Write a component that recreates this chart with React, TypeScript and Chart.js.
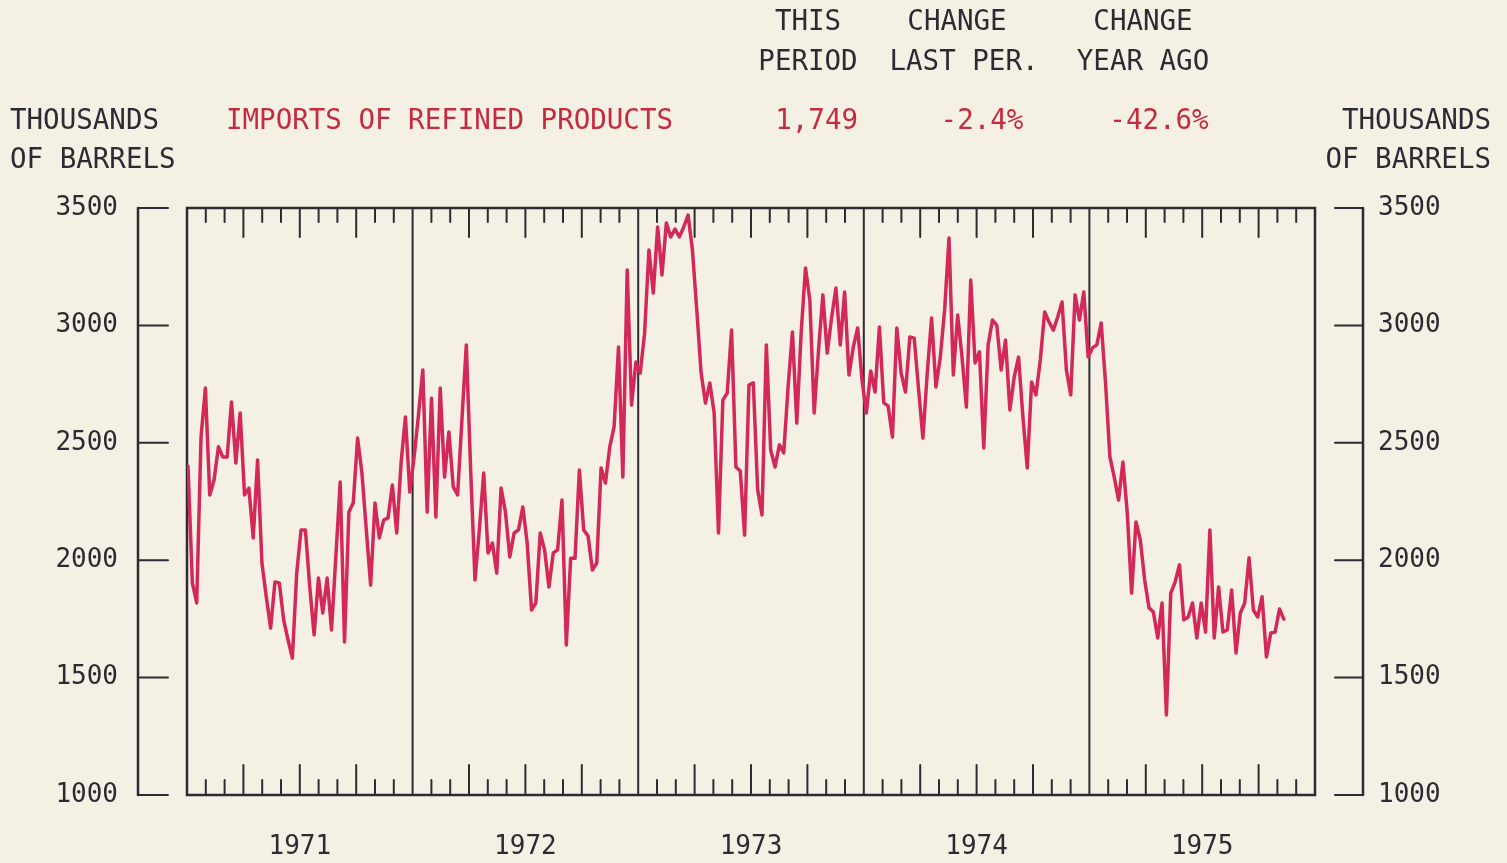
import React, { useEffect, useRef } from 'react';
import { Chart, registerables } from 'chart.js';

Chart.register(...registerables);

// ---- data (weekly imports of refined products, thousands of barrels/day) ----
const years = ['1971', '1972', '1973', '1974', '1975'];

const imports1971 = [
  2400, 1903, 1818, 2525, 2733, 2278, 2342, 2483, 2440, 2440, 2674, 2414, 2627, 2278, 2307, 2095,
  2427, 1988, 1844, 1711, 1907, 1903, 1746, 1661, 1583, 1945, 2129, 2129, 1886, 1682, 1924, 1775,
  1924, 1703, 2014, 2333, 1652, 2205, 2244, 2520, 2371, 2130, 1894, 2244, 2095, 2171, 2180, 2320,
  2116, 2414, 2610, 2290, 2440,
];
const imports1972 = [
  2618, 2810, 2205, 2690, 2184, 2733, 2354, 2546, 2312, 2278, 2600, 2917, 2384, 1916, 2129, 2371,
  2031, 2073, 1945, 2307, 2205, 2014, 2116, 2129, 2227, 2073, 1788, 1818, 2116, 2044, 1886, 2031,
  2044, 2256, 1639, 2008, 2008, 2384, 2129, 2103, 1958, 1988, 2393, 2329, 2483, 2570, 2908, 2354,
  3236, 2661, 2844, 2797,
];
const imports1973 = [
  2967, 3321, 3138, 3419, 3215, 3436, 3377, 3410, 3377, 3419, 3470, 3321, 3066, 2797, 2669, 2755,
  2627, 2116, 2682, 2712, 2980, 2397, 2380, 2107, 2746, 2755, 2300, 2193, 2917, 2469, 2397, 2491,
  2457, 2738, 2972, 2584, 2967, 3244, 3108, 2627, 2895, 3130, 2882, 3032, 3159, 2917, 3142, 2789,
  2908, 2989, 2767,
];
const imports1974 = [
  2627, 2806, 2716, 2993, 2670, 2657, 2525, 2989, 2797, 2716, 2951, 2946, 2730, 2520, 2797, 3032,
  2738, 2865, 3066, 3372, 2789, 3044, 2865, 2652, 3193, 2840, 2887, 2478, 2917, 3023, 3000, 2810,
  2938, 2640, 2780, 2865, 2610, 2393, 2759, 2704, 2853, 3057, 3015, 2980, 3036, 3100, 2810, 2704,
  3130, 3023, 3142,
];
const imports1975 = [
  2866, 2904, 2917, 3010, 2755, 2440, 2354, 2256, 2418, 2201, 1860, 2163, 2086, 1916, 1797, 1779,
  1669, 1818, 1341, 1860, 1907, 1980, 1746, 1758, 1818, 1669, 1818, 1694, 2129, 1669, 1886, 1694,
  1703, 1873, 1605, 1775, 1818, 2010, 1788, 1758, 1844, 1588, 1690, 1694, 1792, 1749,
];

const yTicks = [1000, 1500, 2000, 2500, 3000, 3500];

const headTitle = 'IMPORTS OF REFINED PRODUCTS';
const unitLines = ['THOUSANDS', 'OF BARRELS'];
const colHeads = [
  ['THIS', 'PERIOD'],
  ['CHANGE', 'LAST PER.'],
  ['CHANGE', 'YEAR AGO'],
];
const colValues = ['1,749', '-2.4%', '-42.6%'];

// ---- style ----
const BG = '#f4f0e4';
const INK = '#2e2a33';
const RED = '#c62a3e';
const LINE = '#d3285a';
const MONO = '"DejaVu Sans Mono", "Liberation Mono", monospace';

const allWeeks = [...imports1971, ...imports1972, ...imports1973, ...imports1974, ...imports1975];

const noPad = (s: any) => {
  s.paddingTop = 0;
  s.paddingBottom = 0;
  s.paddingLeft = 0;
  s.paddingRight = 0;
};

const decorPlugin = {
  id: 'decor',
  beforeDatasetsDraw(chart: any) {
    const { ctx, chartArea: a } = chart;
    const yS = chart.scales.y;
    const w = a.right - a.left;
    ctx.save();
    ctx.strokeStyle = INK;
    ctx.lineCap = 'round';
    // year dividers and month ticks
    ctx.lineWidth = 2;
    for (let i = 1; i < 60; i++) {
      const x = a.left + (w * i) / 60;
      ctx.beginPath();
      if (i % 12 === 0) {
        ctx.moveTo(x, a.top);
        ctx.lineTo(x, a.bottom);
      } else {
        const len = i % 3 === 0 ? 29 : 14;
        ctx.moveTo(x, a.top);
        ctx.lineTo(x, a.top + len);
        ctx.moveTo(x, a.bottom);
        ctx.lineTo(x, a.bottom - len - 1);
      }
      ctx.stroke();
    }
    // frame
    ctx.lineWidth = 2.5;
    ctx.strokeRect(a.left, a.top, w, a.bottom - a.top);
    // outer axes
    const lx = a.left - 49;
    const rx = a.right + 48;
    const yTop = yS.getPixelForValue(yTicks[yTicks.length - 1]);
    const yBot = yS.getPixelForValue(yTicks[0]);
    ctx.lineWidth = 2.5;
    ctx.beginPath();
    ctx.moveTo(lx, yTop);
    ctx.lineTo(lx, yBot);
    ctx.moveTo(rx, yTop);
    ctx.lineTo(rx, yBot);
    ctx.stroke();
    ctx.lineWidth = 2;
    for (const v of yTicks) {
      const y = yS.getPixelForValue(v);
      ctx.beginPath();
      ctx.moveTo(lx, y);
      ctx.lineTo(lx + 30, y);
      ctx.moveTo(rx - 28, y);
      ctx.lineTo(rx, y);
      ctx.stroke();
    }
    ctx.restore();
  },
  afterDraw(chart: any) {
    const { ctx, width } = chart;
    ctx.save();
    ctx.font = `27.5px ${MONO}`;
    ctx.textBaseline = 'middle';
    // column headings
    const colCenters = [808, 964, 1143];
    ctx.fillStyle = INK;
    ctx.textAlign = 'center';
    colHeads.forEach((h, i) => {
      ctx.fillText(h[0], colCenters[i] - (i === 1 ? 7 : 0), 23);
      ctx.fillText(h[1], colCenters[i], 63);
    });
    // units
    ctx.textAlign = 'left';
    ctx.fillText(unitLines[0], 10, 122);
    ctx.fillText(unitLines[1], 10, 161);
    ctx.textAlign = 'right';
    ctx.fillText(unitLines[0], width - 16, 122);
    ctx.fillText(unitLines[1], width - 16, 161);
    // title and values
    ctx.fillStyle = RED;
    ctx.textAlign = 'left';
    ctx.fillText(headTitle, 226, 122);
    ctx.textAlign = 'right';
    ctx.fillText(colValues[0], 858, 122);
    ctx.textAlign = 'center';
    ctx.fillText(colValues[1], 982, 122);
    ctx.fillText(colValues[2], 1159, 122);
    ctx.restore();
  },
};

export default function App() {
  const ref = useRef<HTMLCanvasElement | null>(null);

  useEffect(() => {
    if (!ref.current) return;
    const tickFont = { family: MONO, size: 26 };
    const chart = new Chart(ref.current, {
      type: 'line',
      data: {
        datasets: [
          {
            label: headTitle,
            data: allWeeks.map((v, k) => ({ x: k, y: v })),
            borderColor: LINE,
            borderWidth: 3.5,
            borderJoinStyle: 'round',
            borderCapStyle: 'round',
            pointRadius: 0,
            tension: 0,
            fill: false,
            xAxisID: 'x',
            yAxisID: 'y',
          },
        ],
      },
      options: {
        responsive: false,
        animation: false,
        layout: { padding: { top: 208, left: 0, right: 0, bottom: 0 } },
        plugins: { legend: { display: false }, tooltip: { enabled: false }, title: { display: false } },
        scales: {
          x: { type: 'linear', min: -0.23, max: 259.17, display: false },
          xYear: {
            type: 'linear',
            position: 'bottom',
            min: 1971,
            max: 1976,
            afterBuildTicks: (s: any) => {
              s.ticks = years.map((y) => ({ value: Number(y) + 0.5 }));
            },
            afterFit: (s: any) => {
              s.height = 68;
              noPad(s);
            },
            grid: { display: false, drawTicks: false },
            border: { display: false },
            ticks: {
              autoSkip: false,
              maxRotation: 0,
              padding: 37,
              color: INK,
              font: tickFont,
              callback: (v: any) => String(Math.floor(Number(v))),
            },
          },
          y: {
            type: 'linear',
            position: 'left',
            min: 1000,
            max: 3500,
            afterBuildTicks: (s: any) => {
              s.ticks = yTicks.map((v) => ({ value: v }));
            },
            afterFit: (s: any) => {
              s.width = 187;
              noPad(s);
            },
            grid: { display: false, drawTicks: false },
            border: { display: false },
            ticks: { padding: 69, color: INK, font: tickFont, callback: (v: any) => String(v) },
          },
          y2: {
            type: 'linear',
            position: 'right',
            min: 1000,
            max: 3500,
            afterBuildTicks: (s: any) => {
              s.ticks = yTicks.map((v) => ({ value: v }));
            },
            afterFit: (s: any) => {
              s.width = 192;
              noPad(s);
            },
            grid: { display: false, drawTicks: false },
            border: { display: false },
            ticks: { padding: 63, color: INK, font: tickFont, callback: (v: any) => String(v) },
          },
        },
      } as any,
      plugins: [decorPlugin],
    });
    return () => chart.destroy();
  }, []);

  return (
    <div style={{ position: 'absolute', left: 0, top: 0, width: 1507, height: 863, background: BG, overflow: 'hidden' }}>
      <canvas ref={ref} width={1507} height={863} style={{ display: 'block' }} />
    </div>
  );
}
